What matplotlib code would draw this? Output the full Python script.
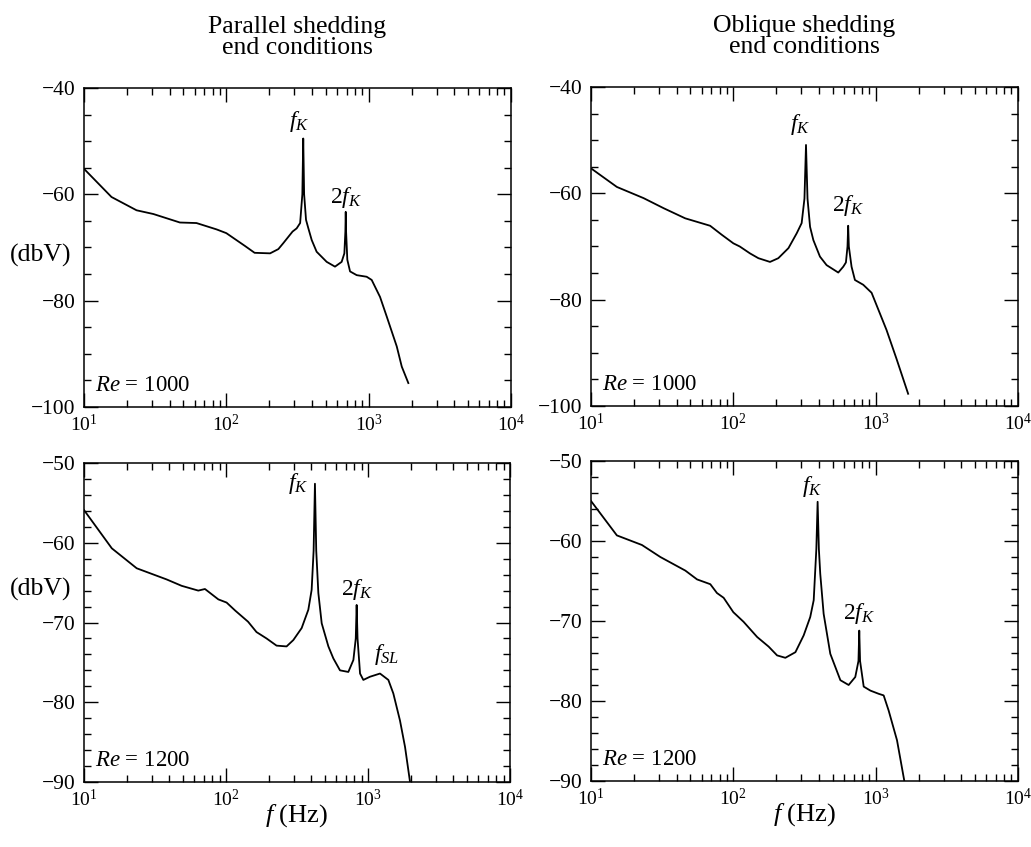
import matplotlib
matplotlib.use("Agg")
import matplotlib.pyplot as plt
import numpy as np
from matplotlib.ticker import MultipleLocator, LogLocator, NullFormatter

plt.rcParams['font.family'] = ['Liberation Serif', 'DejaVu Serif']
plt.rcParams['mathtext.fontset'] = 'custom'
plt.rcParams['mathtext.rm'] = 'Liberation Serif'
plt.rcParams['mathtext.it'] = 'Liberation Serif:italic'

# spectra (frequency in Hz, level in dbV)
f_par_1000 = [10, 15.6, 23.4, 30.7, 47.2, 61.7, 85.5, 100, 135, 158, 203, 232, 251, 292, 312,
              330, 342, 347, 352, 363, 377, 398, 431, 507, 580, 646, 675, 686, 690, 694, 708,
              740, 824, 968, 1050, 1202, 1340, 1575, 1708, 1900]
db_par_1000 = [-55.2, -60.5, -63.0, -63.7, -65.3, -65.4, -66.6, -67.3, -69.7, -71.0, -71.1, -70.3,
               -69.2, -67.0, -66.4, -65.4, -60.0, -49.5, -60.0, -64.8, -66.4, -68.6, -70.8, -72.7,
               -73.6, -72.7, -71.1, -67.0, -63.3, -67.0, -72.3, -74.5, -75.2, -75.5, -76.1, -79.3,
               -83.0, -88.6, -92.4, -95.5]

f_obl_1000 = [10, 15.2, 23.4, 32.4, 45.9, 68.7, 83, 100, 111, 131, 150, 181, 207, 244, 279, 302,
              316, 324, 332, 346, 365, 406, 452, 546, 592, 618, 634, 641, 648, 677, 715, 818, 936,
              1071, 1192, 1400, 1691]
db_obl_1000 = [-55.3, -58.8, -60.9, -62.8, -64.7, -66.1, -67.8, -69.4, -70.0, -71.3, -72.2, -72.9,
               -72.2, -70.3, -67.5, -65.6, -61.0, -50.9, -61.0, -66.3, -68.8, -71.9, -73.5, -74.9,
               -73.8, -73.0, -70.0, -66.1, -70.0, -73.8, -76.3, -77.2, -78.7, -82.6, -85.7, -91.1,
               -97.7]

f_par_1200 = [10, 15.7, 23.5, 38.2, 48.7, 63.8, 71.1, 88.3, 101, 116, 143, 164, 193, 227, 267, 298,
              341, 380, 401, 414, 423, 432, 447, 472, 526, 570, 635, 727, 789, 820, 832, 844, 879,
              927, 1033, 1215, 1391, 1508, 1680, 1823, 1977]
db_par_1200 = [-55.9, -60.7, -63.2, -64.6, -65.4, -66.0, -65.8, -67.1, -67.5, -68.5, -69.9, -71.2,
               -72.0, -72.9, -73.0, -72.2, -70.7, -68.4, -65.9, -61.0, -52.6, -61.0, -66.3, -70.1,
               -73.0, -74.5, -76.0, -76.2, -74.7, -72.0, -67.8, -72.0, -76.4, -77.2, -76.8, -76.4,
               -77.2, -78.9, -82.3, -85.6, -90.0]

f_obl_1200 = [10, 15.2, 22.8, 30.7, 46, 55.6, 68.9, 76.7, 85.5, 100, 118, 147, 177, 203, 232, 273,
              312, 347, 367, 383, 391, 399, 408, 431, 480, 565, 646, 719, 757, 767, 777, 824, 918,
              1050, 1138, 1234, 1412, 1590]
db_obl_1200 = [-55.0, -59.3, -60.5, -62.0, -63.7, -64.8, -65.4, -66.5, -67.1, -68.9, -70.1, -72.0,
               -73.2, -74.3, -74.6, -73.9, -71.8, -69.5, -67.4, -61.0, -55.1, -61.0, -64.1, -69.1,
               -74.1, -77.4, -78.0, -77.0, -75.0, -71.2, -75.0, -78.2, -78.7, -79.1, -79.3, -81.2,
               -84.9, -90.0]

titles = ["Parallel shedding\nend conditions", "Oblique shedding\nend conditions"]
re_labels = [r"$Re$ = 1000", r"$Re$ = 1200"]

fig = plt.figure(figsize=(10.31, 8.47), dpi=100)
W, H = 1031, 847
boxes = [(84, 88, 511, 407), (591, 87, 1018, 406), (84, 463, 510, 782), (591, 461, 1018, 781)]
axs = [fig.add_axes([l / W, 1 - b / H, (r - l) / W, (b - t) / H]) for (l, t, r, b) in boxes]

data = [(f_par_1000, db_par_1000), (f_obl_1000, db_obl_1000),
        (f_par_1200, db_par_1200), (f_obl_1200, db_obl_1200)]

for i, ax in enumerate(axs):
    f, db = np.array(data[i][0]), np.array(data[i][1])
    ax.plot(f, db, color='black', lw=1.3)
    ax.set_xscale('log')
    ax.set_xlim(10, 1e4)
    if i < 2:
        ax.set_ylim(-100, -40)
        ax.yaxis.set_major_locator(MultipleLocator(20))
        ax.yaxis.set_minor_locator(MultipleLocator(5))
    else:
        ax.set_ylim(-90, -50)
        ax.yaxis.set_major_locator(MultipleLocator(10))
        ax.yaxis.set_minor_locator(MultipleLocator(2))
    ax.xaxis.set_major_locator(LogLocator(base=10, numticks=10))
    ax.xaxis.set_minor_locator(LogLocator(base=10, subs=np.arange(2, 10), numticks=10))
    ax.xaxis.set_minor_formatter(NullFormatter())
    ax.tick_params(which='both', direction='in', top=True, right=True, width=1.0, pad=6)
    ax.tick_params(axis='y', labelsize=15.5)
    ax.tick_params(axis='x', labelsize=14, pad=5)
    ax.tick_params(which='major', length=10)
    ax.tick_params(which='minor', length=5)
    for s in ax.spines.values():
        s.set_linewidth(1.1)

    # peak labels
    k1 = np.argmax(np.where((f > 200) & (f < 600), db, -999))
    k2 = np.argmax(np.where((f > 600) & (f < 900), db, -999))
    off1 = [(-3, 3.5), (-4, 5.5), (-12, -8.5), (-4, 1.7)][i]
    off2 = [(0, 1), (0, 5.5), (0, 2), (0, 3.3)][i]
    ax.annotate(r"$f_K$", (f[k1], db[k1]), xytext=off1, textcoords='offset points',
                ha='center', va='bottom', fontsize=17)
    ax.annotate(r"$2f_K$", (f[k2], db[k2]), xytext=off2, textcoords='offset points',
                ha='center', va='bottom', fontsize=17)
    if i == 2:
        k3 = np.argmax(np.where(f > 1000, db, -999))
        ax.annotate(r"$f_{SL}$", (f[k3], db[k3]), xytext=(5, 5), textcoords='offset points',
                    ha='center', va='bottom', fontsize=17)

    ax.text(0.026, 0.05, re_labels[i // 2], transform=ax.transAxes, fontsize=16.5,
            ha='left', va='baseline')
    if i % 2 == 0:
        ax.text(-0.03, [0.476, 0.605][i // 2], "(dbV)", transform=ax.transAxes,
                fontsize=18.5, ha='right', va='center')
    if i < 2:
        ax.text(0.5, 1.09, titles[i], transform=ax.transAxes, fontsize=18.5,
                ha='center', va='bottom', linespacing=0.95)
    else:
        ax.set_xlabel(r"$f$ (Hz)", fontsize=19, labelpad=-6)

fig.savefig("out.png", dpi=100)
